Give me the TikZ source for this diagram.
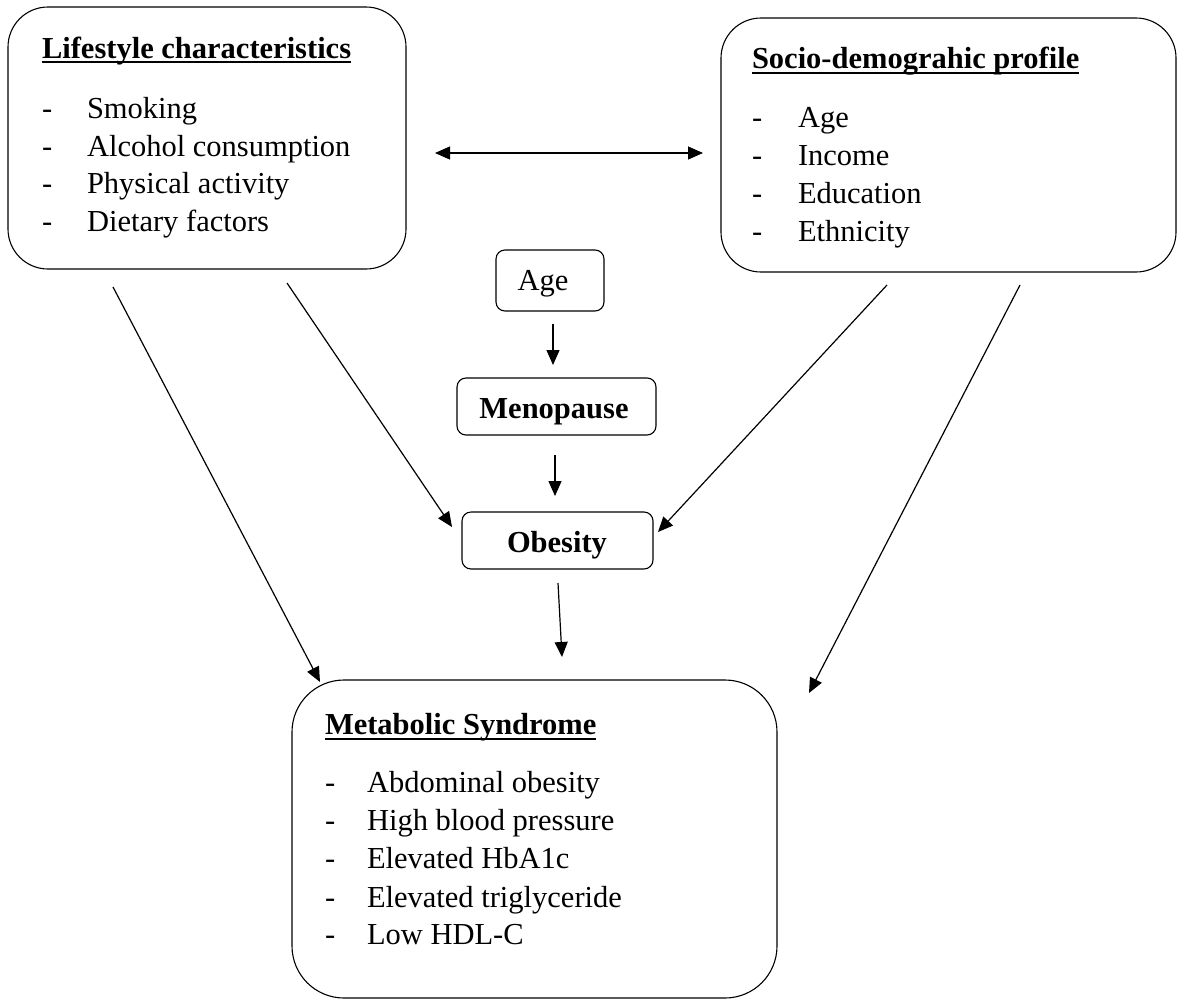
\documentclass[tikz,border=0pt]{standalone}
\usepackage{fontspec}
\setmainfont{Liberation Serif}
\usetikzlibrary{arrows.meta}
\begin{document}
\begin{tikzpicture}[x=1pt,y=-1pt,
  bigbox/.style={draw, line width=1.1pt, inner sep=0pt, outer sep=0pt},
  smallbox/.style={draw, line width=1.1pt, inner sep=0pt, outer sep=0pt, rounded corners=9pt},
  txt/.style={anchor=base west, inner sep=0pt, outer sep=0pt, font=\fontsize{30.5}{37}\selectfont},
  ctxt/.style={anchor=base, inner sep=0pt, outer sep=0pt, font=\fontsize{30.5}{37}\selectfont},
  ttl/.style={txt, font=\fontsize{30.5}{37}\selectfont\bfseries},
  uline/.style={line width=1.6pt},
  arr/.style={line width=1.2pt, -{Triangle[length=15pt,width=13pt]}},
  barr/.style={line width=1.2pt, {Triangle[length=15pt,width=13pt]}-{Triangle[length=15pt,width=13pt]}}
]
\useasboundingbox (0,0) rectangle (1177,999);

% big boxes
\node[bigbox, rounded corners=40pt, minimum width=398pt, minimum height=262pt] (life) at (207,138) {};
\node[bigbox, rounded corners=40pt, minimum width=455pt, minimum height=254pt] (socio) at (948.5,145) {};
\node[bigbox, rounded corners=52pt, minimum width=485pt, minimum height=318pt] (mets) at (534.5,839) {};

% small boxes
\node[smallbox, minimum width=108pt, minimum height=61pt] (age) at (550,280.5) {};
\node[smallbox, minimum width=199pt, minimum height=57pt] (meno) at (556.5,406.5) {};
\node[smallbox, minimum width=191pt, minimum height=57pt] (obes) at (557.5,540.5) {};
\node[ctxt] (agetxt) at (543,290) {Age};
\node[ctxt, font=\fontsize{30.5}{37}\selectfont\bfseries] (menotxt) at (554,418) {Menopause};
\node[ctxt, font=\fontsize{30.5}{37}\selectfont\bfseries] (obestxt) at (557,552) {Obesity};

% Lifestyle text
\node[ttl] (lt) at (42,58) {Lifestyle characteristics};
\draw[uline] ([yshift=-4pt]lt.base west) -- ([yshift=-4pt]lt.base east);
\node[txt] (ld1) at (42,118) {-}; \node[txt] (li1) at (87,118) {Smoking};
\node[txt] (ld2) at (42,156) {-}; \node[txt] (li2) at (87,156) {Alcohol consumption};
\node[txt] (ld3) at (42,193) {-}; \node[txt] (li3) at (87,193) {Physical activity};
\node[txt] (ld4) at (42,231) {-}; \node[txt] (li4) at (87,231) {Dietary factors};

% Socio text
\node[ttl] (st) at (752,68) {Socio-demograhic profile};
\draw[uline] ([yshift=-5pt]st.base west) -- ([yshift=-5pt]st.base east);
\node[txt] (sd1) at (752,127) {-}; \node[txt] (si1) at (798,127) {Age};
\node[txt] (sd2) at (752,165) {-}; \node[txt] (si2) at (798,165) {Income};
\node[txt] (sd3) at (752,203) {-}; \node[txt] (si3) at (798,203) {Education};
\node[txt] (sd4) at (752,241) {-}; \node[txt] (si4) at (798,241) {Ethnicity};

% MetS text
\node[ttl] (mt) at (325,734) {Metabolic Syndrome};
\draw[uline] ([yshift=-5pt]mt.base west) -- ([yshift=-5pt]mt.base east);
\node[txt] (md1) at (325,792) {-}; \node[txt] (mi1) at (367,792) {Abdominal obesity};
\node[txt] (md2) at (325,830) {-}; \node[txt] (mi2) at (367,830) {High blood pressure};
\node[txt] (md3) at (325,868) {-}; \node[txt] (mi3) at (367,868) {Elevated HbA1c};
\node[txt] (md4) at (325,907) {-}; \node[txt] (mi4) at (367,907) {Elevated triglyceride};
\node[txt] (md5) at (325,944) {-}; \node[txt] (mi5) at (367,944) {Low HDL-C};

% connector end points
\coordinate (bL) at (435,153);
\coordinate (bR) at (703,153);
\coordinate (lm1) at (113,287); \coordinate (lm2) at (320,682);
\coordinate (lo1) at (287,283); \coordinate (lo2) at (452,527);
\coordinate (so1) at (887,285); \coordinate (so2) at (658,532);
\coordinate (sm1) at (1020,285); \coordinate (sm2) at (809,693);
\coordinate (am1) at (553,324); \coordinate (am2) at (553,365);
\coordinate (mo1) at (555,455); \coordinate (mo2) at (555,496);
\coordinate (om1) at (558,583); \coordinate (om2) at (562,657);

\draw[barr] (bL) -- (bR);
\draw[arr] (lm1) -- (lm2);
\draw[arr] (lo1) -- (lo2);
\draw[arr] (so1) -- (so2);
\draw[arr] (sm1) -- (sm2);
\draw[arr] (am1) -- (am2);
\draw[arr] (mo1) -- (mo2);
\draw[arr] (om1) -- (om2);
\end{tikzpicture}
\end{document}
